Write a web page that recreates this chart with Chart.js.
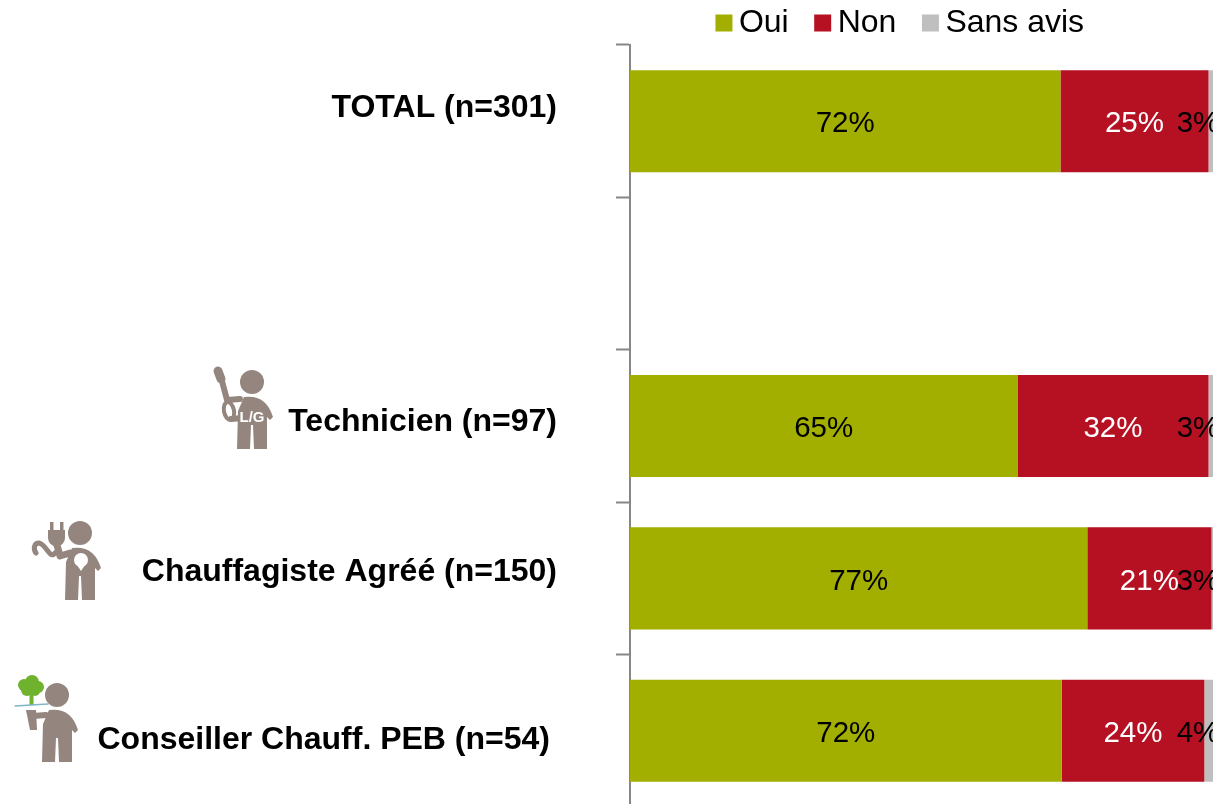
<!DOCTYPE html>
<html lang="fr"><head><meta charset="utf-8">
<script src="https://cdn.jsdelivr.net/npm/chart.js@4/dist/chart.umd.min.js"></script>
<style>html,body{margin:0;padding:0;background:#fff;overflow:hidden;width:1213px;height:804px}canvas{display:block}</style>
</head><body><canvas id="c" width="1228" height="808"></canvas>
<script>
const categories = ["TOTAL (n=301)", "", "Technicien (n=97)", "Chauffagiste Agréé (n=150)", "Conseiller Chauff. PEB (n=54)"];
const seriesNames = ["Oui", "Non", "Sans avis"];
const oui = [72.1, null, 64.9, 76.6, 72.3];
const non = [24.8, null, 32.0, 20.8, 23.9];
const sansAvis = [3.1, null, 3.1, 2.6, 3.8];
const colours = ["#A3AF00", "#B51123", "#BFBFBF"];
const labelColours = ["#000", "#fff", "#000"];
const FONT = '"Liberation Sans", Arial, sans-serif';
const GREY = "#94867F";
const labelNudges = [[0,-13],[0,0],[0,-4],[0,-6],[-7,9]];

function swatch(col){
  const c=document.createElement('canvas');c.width=34;c.height=18;
  const x=c.getContext('2d');x.fillStyle=col;x.fillRect(13,0.5,17,17);return c;
}
const swatches = colours.map(swatch);

const segmentLabels = {id:'segmentLabels',afterDatasetsDraw(chart){
  const ctx=chart.ctx,xs=chart.scales.x;
  ctx.save();ctx.font='29.5px '+FONT;ctx.textAlign='center';ctx.textBaseline='middle';
  chart.data.datasets.forEach((ds,i)=>{
    chart.getDatasetMeta(i).data.forEach((el,j)=>{
      const v=ds.data[j];if(v==null)return;
      const x=i===2?xs.getPixelForValue(100)-29:(el.base+el.x)/2;
      ctx.fillStyle=labelColours[i];
      ctx.fillText(Math.round(v)+'%',x,el.y+3);
    });
  });
  ctx.restore();
}};

const placeText = {id:'placeText',
  beforeLayout(chart){
    const l=chart.legend;
    if(!l._fitWrapped){const f=l.fit;l.fit=function(){f.call(this);this.height=45;};l._fitWrapped=true;}
  },
  afterLayout(chart){const l=chart.legend;l.left=500;l.right=1300;l.top=-19;},
  beforeDraw(chart){
    chart.scales.y.getLabelItems().forEach((it,i)=>{
      const n=labelNudges[i];if(it._moved)return;it._moved=true;
      it.options.translation=[it.options.translation[0]+n[0],it.options.translation[1]+n[1]];
    });
  }};

function figure(ctx,hx,hy){
  ctx.fillStyle=GREY;
  ctx.beginPath();ctx.arc(hx,hy,12,0,Math.PI*2);ctx.fill();
  const t=hy+15;
  ctx.beginPath();
  ctx.moveTo(hx-8,t);
  ctx.quadraticCurveTo(hx+14,t-3,hx+21,t+20);
  ctx.lineTo(hx+18,t+23);ctx.lineTo(hx+15,t+20);
  ctx.lineTo(hx+15,t+52);ctx.lineTo(hx+2,t+52);ctx.lineTo(hx+1,t+28);
  ctx.lineTo(hx-1,t+28);ctx.lineTo(hx-2,t+52);ctx.lineTo(hx-15,t+52);
  ctx.lineTo(hx-14,t+14);ctx.closePath();ctx.fill();
}
const icons = {id:'icons',afterDraw(chart){
  const ctx=chart.ctx;ctx.save();ctx.lineCap='round';ctx.lineJoin='round';
  figure(ctx,252,382);
  ctx.strokeStyle=GREY;ctx.fillStyle=GREY;
  ctx.lineWidth=6;ctx.beginPath();ctx.moveTo(222,381);ctx.lineTo(227,400);ctx.lineTo(240,399);ctx.stroke();
  ctx.lineWidth=9;ctx.beginPath();ctx.moveTo(218,371);ctx.lineTo(221,379);ctx.stroke();
  ctx.lineWidth=4;ctx.beginPath();ctx.ellipse(229,411,5,9,-0.2,0,Math.PI*2);ctx.stroke();
  ctx.lineWidth=6;ctx.beginPath();ctx.moveTo(231,419);ctx.lineTo(243,418);ctx.stroke();
  ctx.fillStyle='#fff';ctx.font='bold 15px '+FONT;ctx.textAlign='center';ctx.textBaseline='middle';ctx.fillText('L/G',252,418);

  figure(ctx,80,533);
  ctx.strokeStyle=GREY;ctx.fillStyle=GREY;
  ctx.lineWidth=7;ctx.beginPath();ctx.moveTo(70,553);ctx.lineTo(60,556);ctx.lineTo(57,545);ctx.stroke();
  ctx.lineWidth=5;ctx.beginPath();ctx.moveTo(55,553);ctx.bezierCurveTo(50,560,46,544,39,543);ctx.bezierCurveTo(34,543,33,549,36,553);ctx.stroke();
  ctx.fillRect(48,530,17,8);ctx.beginPath();ctx.arc(56.5,538,8.5,0,Math.PI);ctx.fill();
  ctx.fillRect(50,522,3.5,9);ctx.fillRect(60,522,3.5,9);
  ctx.fillStyle='#fff';ctx.beginPath();ctx.arc(81,560,7,0,Math.PI*2);ctx.fill();
  ctx.beginPath();ctx.moveTo(77,565);ctx.lineTo(81,571);ctx.lineTo(85,565);ctx.fill();

  figure(ctx,57,695);
  ctx.strokeStyle=GREY;ctx.fillStyle=GREY;
  ctx.lineWidth=6;ctx.beginPath();ctx.moveTo(46,715);ctx.lineTo(33,716);ctx.stroke();
  ctx.beginPath();ctx.moveTo(26,710);ctx.lineTo(36,710);ctx.lineTo(37,730);ctx.lineTo(30,730);ctx.closePath();ctx.fill();
  ctx.fillStyle='#6FB22E';
  ctx.fillRect(29.5,694,4,11);
  [[24,685,6],[32,682,7],[38,687,6],[27,690,6],[35,691,5]].forEach(c=>{ctx.beginPath();ctx.arc(c[0],c[1],c[2],0,Math.PI*2);ctx.fill();});
  ctx.strokeStyle='#7FB6C9';ctx.lineWidth=1.5;ctx.beginPath();ctx.moveTo(15,706);ctx.lineTo(48,704);ctx.stroke();
  ctx.restore();
}};

new Chart(document.getElementById('c'),{
  type:'bar',
  data:{labels:categories,datasets:[oui,non,sansAvis].map((d,i)=>({
    label:seriesNames[i],data:d,backgroundColor:colours[i],borderWidth:0,
    categoryPercentage:1,barPercentage:0.67}))},
  options:{
    indexAxis:'y',responsive:false,animation:false,
    layout:{autoPadding:false,padding:{top:0,left:0,right:1,bottom:1}},
    plugins:{
      tooltip:{enabled:false},
      legend:{display:true,position:'top',align:'center',
        labels:{color:'#000',font:{family:FONT,size:32},padding:26,boxHeight:18,
          usePointStyle:true,pointStyleWidth:7,
          generateLabels(chart){
            return Chart.defaults.plugins.legend.labels.generateLabels(chart).map((it,i)=>({...it,pointStyle:swatches[i]}));
          }}}
    },
    scales:{
      x:{display:false,stacked:true,min:0,max:100},
      y:{stacked:true,
        afterFit(s){
          s.width=630;s.paddingTop=0;s.paddingBottom=0;
          if(s._margins){s._margins.top=0;s._margins.bottom=0;}
        },
        border:{display:true,color:'#868686',width:2},
        grid:{display:true,offset:true,drawOnChartArea:false,drawTicks:true,tickLength:14,tickColor:'#868686',tickWidth:2},
        ticks:{color:'#000',padding:59,autoSkip:false,font:{family:FONT,size:32,weight:'bold'}}
      }
    }
  },
  plugins:[placeText,segmentLabels,icons]
});
</script></body></html>
